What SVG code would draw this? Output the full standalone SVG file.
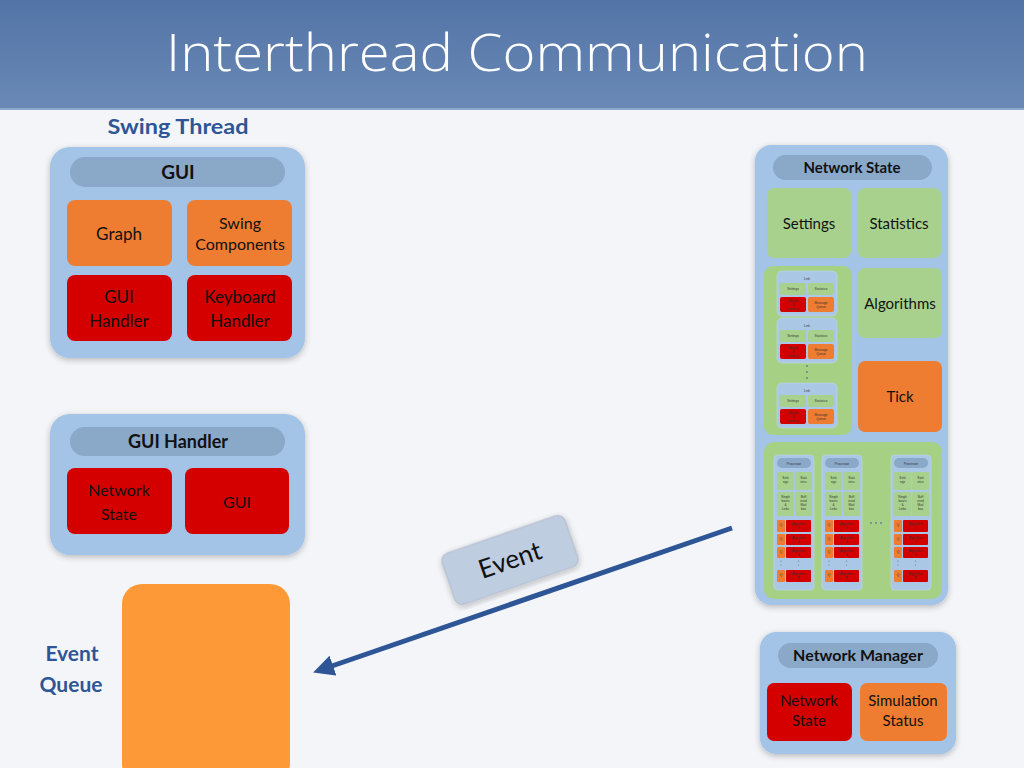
<svg xmlns="http://www.w3.org/2000/svg" xmlns:xlink="http://www.w3.org/1999/xlink" width="1024" height="768" viewBox="0 0 1024 768">
<defs>
<linearGradient id="hdr" x1="0" y1="0" x2="0" y2="1">
<stop offset="0" stop-color="#5274a6"/>
<stop offset="1" stop-color="#6a89b6"/>
</linearGradient>
<filter id="sh" x="-10%" y="-10%" width="120%" height="120%">
<feGaussianBlur in="SourceAlpha" stdDeviation="3"/>
<feOffset dx="0" dy="2" result="b"/>
<feComponentTransfer><feFuncA type="linear" slope="0.25"/></feComponentTransfer>
<feMerge><feMergeNode/><feMergeNode in="SourceGraphic"/></feMerge>
</filter>
<marker id="ah" viewBox="0 0 10 10" refX="2" refY="5" markerWidth="4.2" markerHeight="4.2" orient="auto" markerUnits="strokeWidth">
<path d="M0,0 L10,5 L0,10 z" fill="#2e5596"/>
</marker>
<style>
.panel{fill:#a3c4e6;}
.pill{fill:#8aa8c8;}
.org{fill:#ee7d31;}
.red{fill:#d40000;}
.grn{fill:#a9d18e;}
.grnc{fill:#a6d083;}
.dot{fill:#5a7aa0;}
.t{font-family:Lato,"Open Sans","Liberation Sans",sans-serif;fill:#111;text-anchor:middle;}
.b{font-weight:bold;}
.lbl{font-family:Lato,"Open Sans","Liberation Sans",sans-serif;font-weight:bold;fill:#2e5596;text-anchor:middle;font-size:21px;}
.tiny{font-family:"Liberation Sans",sans-serif;fill:#333;text-anchor:middle;font-size:3.2px;}
</style>
<g id="linkSym">
<rect x="0" y="0" width="60" height="45" rx="5" fill="#aac7e6" stroke="#c0d6ee" stroke-width="0.6"/>
<text x="30" y="9" class="tiny">Link</text>
<rect x="3" y="12" width="26" height="12" rx="2" class="grn"/>
<rect x="31" y="12" width="26" height="12" rx="2" class="grn"/>
<text x="16" y="19" class="tiny">Settings</text>
<text x="44" y="19" class="tiny">Statistics</text>
<rect x="3" y="26" width="26" height="15" rx="2" class="red"/>
<rect x="31" y="26" width="26" height="15" rx="2" class="org"/>
<text x="16" y="30.5" class="tiny">Weight</text>
<text x="16" y="34.5" class="tiny">&amp;</text>
<text x="16" y="38.5" class="tiny">Latency</text>
<text x="44" y="32.5" class="tiny">Message</text>
<text x="44" y="36.5" class="tiny">Queue</text>
</g>
<g id="procSym">
<rect x="0" y="0" width="40" height="135" rx="4" fill="#aac7e6" stroke="#c0d6ee" stroke-width="0.6"/>
<rect x="3" y="3" width="34" height="10" rx="5" class="pill"/>
<text x="20" y="9.5" class="tiny">Processor</text>
<rect x="3" y="17" width="17" height="18" rx="1.5" class="grn"/>
<rect x="21" y="17" width="17" height="18" rx="1.5" class="grn"/>
<text x="11.5" y="24" class="tiny">Setti</text>
<text x="11.5" y="28" class="tiny">ngs</text>
<text x="29.5" y="24" class="tiny">Stati</text>
<text x="29.5" y="28" class="tiny">stics</text>
<rect x="3" y="37" width="17" height="24" rx="1.5" class="grn"/>
<rect x="21" y="37" width="17" height="24" rx="1.5" class="grn"/>
<text x="11.5" y="43" class="tiny">Neigh</text>
<text x="11.5" y="47" class="tiny">bours</text>
<text x="11.5" y="51" class="tiny">&amp;</text>
<text x="11.5" y="55" class="tiny">Links</text>
<text x="29.5" y="43" class="tiny">Buff</text>
<text x="29.5" y="47" class="tiny">ered</text>
<text x="29.5" y="51" class="tiny">Mail</text>
<text x="29.5" y="55" class="tiny">box</text>
<rect x="3" y="65" width="8" height="12" rx="1" class="org"/>
<rect x="12" y="65" width="25" height="12" rx="1" class="red"/>
<text x="7" y="71" class="tiny">Q</text>
<text x="24.5" y="70" class="tiny">Algorithm</text>
<text x="24.5" y="74" class="tiny">1</text>
<rect x="3" y="79" width="8" height="11" rx="1" class="org"/>
<rect x="12" y="79" width="25" height="11" rx="1" class="red"/>
<text x="7" y="85" class="tiny">Q</text>
<text x="24.5" y="83.5" class="tiny">Algorithm</text>
<text x="24.5" y="87.5" class="tiny">2</text>
<rect x="3" y="92" width="8" height="11" rx="1" class="org"/>
<rect x="12" y="92" width="25" height="11" rx="1" class="red"/>
<text x="7" y="98" class="tiny">Q</text>
<text x="24.5" y="96.5" class="tiny">Algorithm</text>
<text x="24.5" y="100.5" class="tiny">3</text>
<circle cx="7" cy="106" r="0.6" class="dot"/>
<circle cx="7" cy="110" r="0.6" class="dot"/>
<circle cx="24.5" cy="106" r="0.6" class="dot"/>
<circle cx="24.5" cy="110" r="0.6" class="dot"/>
<rect x="3" y="115" width="8" height="12" rx="1" class="org"/>
<rect x="12" y="115" width="25" height="12" rx="1" class="red"/>
<text x="7" y="121" class="tiny">Q</text>
<text x="24.5" y="120" class="tiny">Algorithm</text>
<text x="24.5" y="124" class="tiny">N</text>
</g>
</defs>

<rect x="0" y="0" width="1024" height="768" fill="#f3f5f8"/>
<rect x="0" y="0" width="1024" height="109" fill="url(#hdr)"/>
<rect x="0" y="108" width="1024" height="2" fill="#8fa9cc"/>
<text x="517" y="71" font-family="'Open Sans',Lato,sans-serif" font-weight="300" font-size="52" fill="#ffffff" text-anchor="middle" textLength="702" lengthAdjust="spacingAndGlyphs">Interthread Communication</text>

<text x="178" y="134" class="lbl" textLength="141" lengthAdjust="spacingAndGlyphs">Swing Thread</text>

<g id="gui-panel">
<rect x="50" y="147" width="255" height="211" rx="20" class="panel" filter="url(#sh)"/>
<rect x="70" y="157" width="215" height="30" rx="15" class="pill"/>
<text x="178" y="179" class="t b" font-size="19">GUI</text>
</g>
<g id="graph"><rect x="67" y="200" width="105" height="66" rx="8" class="org"/><text x="119" y="240" class="t" font-size="17">Graph</text></g>
<g id="swing-components"><rect x="187" y="200" width="105" height="66" rx="8" class="org"/><text x="240" y="229" class="t" font-size="16">Swing</text><text x="240" y="250" class="t" font-size="16">Components</text></g>
<g id="gui-handler-box"><rect x="67" y="275" width="105" height="66" rx="8" class="red"/><text x="119" y="303" class="t" font-size="17">GUI</text><text x="119" y="327" class="t" font-size="17">Handler</text></g>
<g id="keyboard-handler"><rect x="187" y="275" width="105" height="66" rx="8" class="red"/><text x="240" y="303" class="t" font-size="17">Keyboard</text><text x="240" y="327" class="t" font-size="17">Handler</text></g>

<g id="gui-handler-panel">
<rect x="50" y="414" width="255" height="141" rx="20" class="panel" filter="url(#sh)"/>
<rect x="70" y="427" width="215" height="29" rx="14.5" class="pill"/>
<text x="178" y="448" class="t b" font-size="18">GUI Handler</text>
</g>
<g id="gh-network-state"><rect x="67" y="468" width="105" height="66" rx="8" class="red"/><text x="119" y="496" class="t" font-size="16">Network</text><text x="119" y="520" class="t" font-size="16">State</text></g>
<g id="gh-gui"><rect x="185" y="468" width="104" height="66" rx="8" class="red"/><text x="237" y="508" class="t" font-size="16">GUI</text></g>

<g id="event-queue">
<rect x="122" y="584" width="168" height="200" rx="20" fill="#fd9936"/>
<text x="72" y="661" class="lbl">Event</text>
<text x="71" y="692" class="lbl">Queue</text>
</g>

<g id="network-state-panel">
<rect x="755" y="145" width="193" height="460" rx="16" class="panel" filter="url(#sh)"/>
<rect x="773" y="155" width="159" height="25" rx="12.5" class="pill"/>
<text x="852" y="173" class="t b" font-size="15">Network State</text>
</g>
<g id="ns-settings"><rect x="767" y="188" width="84" height="70" rx="7" class="grn"/><text x="809" y="229" class="t" font-size="15">Settings</text></g>
<g id="ns-statistics"><rect x="858" y="188" width="83" height="70" rx="7" class="grn"/><text x="899" y="229" class="t" font-size="15">Statistics</text></g>
<g id="ns-algorithms"><rect x="858" y="268" width="84" height="70" rx="7" class="grn"/><text x="900" y="309" class="t" font-size="15">Algorithms</text></g>
<g id="ns-tick"><rect x="858" y="361" width="84" height="71" rx="7" class="org"/><text x="900" y="402" class="t" font-size="15">Tick</text></g>
<g id="ns-links">
<rect x="764" y="266" width="88" height="169" rx="9" class="grnc"/>
<use xlink:href="#linkSym" href="#linkSym" x="777" y="271"/>
<use xlink:href="#linkSym" href="#linkSym" x="777" y="318"/>
<circle cx="807" cy="366" r="0.9" class="dot"/>
<circle cx="807" cy="372" r="0.9" class="dot"/>
<circle cx="807" cy="378" r="0.9" class="dot"/>
<use xlink:href="#linkSym" href="#linkSym" x="777" y="383"/>
</g>
<g id="ns-processors">
<rect x="764" y="442" width="178" height="157" rx="10" class="grnc"/>
<use xlink:href="#procSym" href="#procSym" x="774" y="455"/>
<use xlink:href="#procSym" href="#procSym" x="822" y="455"/>
<use xlink:href="#procSym" href="#procSym" x="891" y="455"/>
<circle cx="871" cy="523" r="0.9" class="dot"/>
<circle cx="876" cy="523" r="0.9" class="dot"/>
<circle cx="881" cy="523" r="0.9" class="dot"/>
</g>

<g id="network-manager-panel">
<rect x="760" y="632" width="196" height="122" rx="16" class="panel" filter="url(#sh)"/>
<rect x="778" y="643" width="160" height="25" rx="12.5" class="pill"/>
<text x="858" y="661" class="t b" font-size="16">Network Manager</text>
</g>
<g id="nm-network-state"><rect x="767" y="683" width="85" height="58" rx="7" class="red"/><text x="809" y="706" class="t" font-size="15">Network</text><text x="809" y="726" class="t" font-size="15">State</text></g>
<g id="nm-simulation-status"><rect x="860" y="683" width="87" height="58" rx="7" class="org"/><text x="903" y="706" class="t" font-size="15">Simulation</text><text x="903" y="726" class="t" font-size="15">Status</text></g>

<g id="connectors">
<line x1="732" y1="528" x2="329" y2="667" stroke="#2e5596" stroke-width="5" marker-end="url(#ah)"/>
</g>
<g id="event-label" transform="translate(510,560) rotate(-19)">
<rect x="-65" y="-27" width="130" height="54" rx="8" fill="#bfcde1" stroke="#b3bccb" stroke-width="1.2" filter="url(#sh)"/>
<text x="0" y="9" class="t" font-size="26" fill="#1a2a44">Event</text>
</g>
</svg>
